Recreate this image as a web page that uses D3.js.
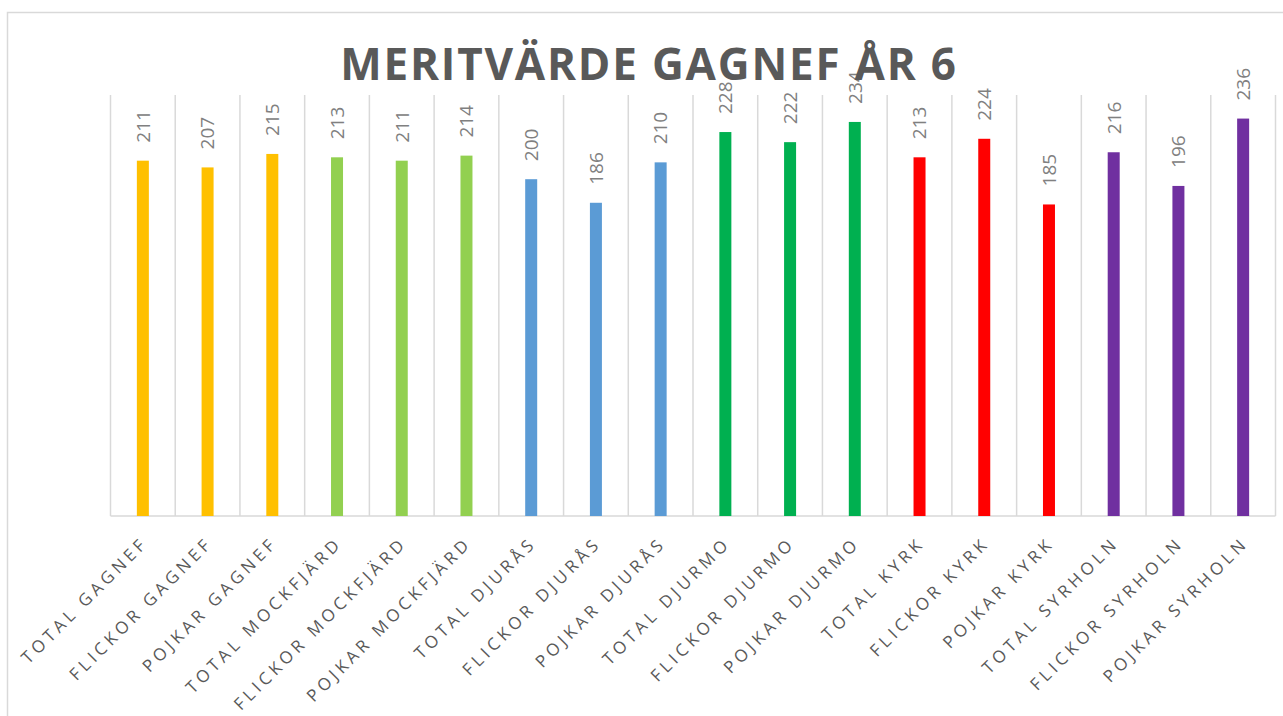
<!DOCTYPE html>
<html>
<head>
<meta charset="utf-8">
<script src="https://cdn.jsdelivr.net/npm/d3@7"></script>
<style>
  body { margin: 0; background: #fff; }
  svg { display: block; }
</style>
</head>
<body>
<svg id="chart" width="1283" height="716"></svg>
<script>
// data
var categories = ["TOTAL GAGNEF", "FLICKOR GAGNEF", "POJKAR GAGNEF",
  "TOTAL MOCKFJÄRD", "FLICKOR MOCKFJÄRD", "POJKAR MOCKFJÄRD",
  "TOTAL DJURÅS", "FLICKOR DJURÅS", "POJKAR DJURÅS",
  "TOTAL DJURMO", "FLICKOR DJURMO", "POJKAR DJURMO",
  "TOTAL KYRK", "FLICKOR KYRK", "POJKAR KYRK",
  "TOTAL SYRHOLN", "FLICKOR SYRHOLN", "POJKAR SYRHOLN"];
var values = [211, 207, 215, 213, 211, 214, 200, 186, 210, 228, 222, 234, 213, 224, 185, 216, 196, 236];
var schools = ["Gagnef", "Gagnef", "Gagnef", "Mockfjärd", "Mockfjärd", "Mockfjärd",
  "Djurås", "Djurås", "Djurås", "Djurmo", "Djurmo", "Djurmo",
  "Kyrk", "Kyrk", "Kyrk", "Syrholn", "Syrholn", "Syrholn"];
var schoolNames = ["Gagnef", "Mockfjärd", "Djurås", "Djurmo", "Kyrk", "Syrholn"];
var title = "MERITVÄRDE GAGNEF ÅR 6";

var svg = d3.select("#chart");

var color = d3.scaleOrdinal()
    .domain(schoolNames)
    .range(["#ffc000", "#92d050", "#5b9bd5", "#00b050", "#ff0000", "#7030a0"]);

// chart frame
svg.append("rect")
    .attr("x", 7.5).attr("y", 12.5)
    .attr("width", 1300).attr("height", 720)
    .attr("fill", "none")
    .attr("stroke", "#d9d9d9")
    .attr("stroke-width", 1.5);

var x = d3.scaleBand()
    .domain(categories)
    .range([110.5, 1275.5])
    .padding(0);

var y = d3.scaleLinear()
    .domain([0, 250])
    .range([516, 95]);

// vertical gridlines between categories
var edges = categories.map(function(c) { return x(c); }).concat([x.range()[1]]);
svg.append("g")
    .selectAll("line")
    .data(edges)
    .enter()
    .append("line")
    .attr("x1", function(d) { return d; })
    .attr("x2", function(d) { return d; })
    .attr("y1", y(250))
    .attr("y2", y(0))
    .attr("stroke", "#d9d9d9")
    .attr("stroke-width", 1.5);

// baseline
svg.append("line")
    .attr("x1", x.range()[0]).attr("x2", x.range()[1])
    .attr("y1", y(0)).attr("y2", y(0))
    .attr("stroke", "#d9d9d9")
    .attr("stroke-width", 1.5);

var barW = 12;

svg.append("g")
    .selectAll("rect")
    .data(values)
    .enter()
    .append("rect")
    .attr("x", function(d, i) { return x(categories[i]) + x.bandwidth() / 2 - barW / 2; })
    .attr("y", function(d) { return y(d); })
    .attr("width", barW)
    .attr("height", function(d) { return y(0) - y(d); })
    .attr("fill", function(d, i) { return color(schools[i]); });

// value labels, rotated
svg.append("g")
    .selectAll("text")
    .data(values)
    .enter()
    .append("text")
    .attr("transform", function(d, i) {
        return "translate(" + (x(categories[i]) + x.bandwidth() / 2) + "," + (y(d) - 18) + ") rotate(-90)";
    })
    .attr("dy", "0.36em")
    .attr("text-anchor", "start")
    .attr("font-family", "'Open Sans', sans-serif")
    .attr("font-size", "19px")
    .attr("fill", "#808080")
    .text(function(d) { return d; });

// category labels
svg.append("g")
    .selectAll("text")
    .data(categories)
    .enter()
    .append("text")
    .attr("transform", function(d) {
        return "translate(" + (x(d) + x.bandwidth() / 2 + 2) + "," + (y(0) + 24) + ") rotate(-45)";
    })
    .attr("dy", "0.35em")
    .attr("text-anchor", "end")
    .attr("font-family", "'Open Sans', sans-serif")
    .attr("font-size", "17px")
    .attr("letter-spacing", "4px")
    .attr("fill", "#595959")
    .text(function(d) { return d; });

// title
svg.append("text")
    .attr("x", 649)
    .attr("y", 80)
    .attr("text-anchor", "middle")
    .attr("font-family", "'Open Sans', sans-serif")
    .attr("font-weight", "bold")
    .attr("font-size", "44px")
    .attr("letter-spacing", "1.8px")
    .attr("fill", "#595959")
    .text(title);
</script>
</body>
</html>
